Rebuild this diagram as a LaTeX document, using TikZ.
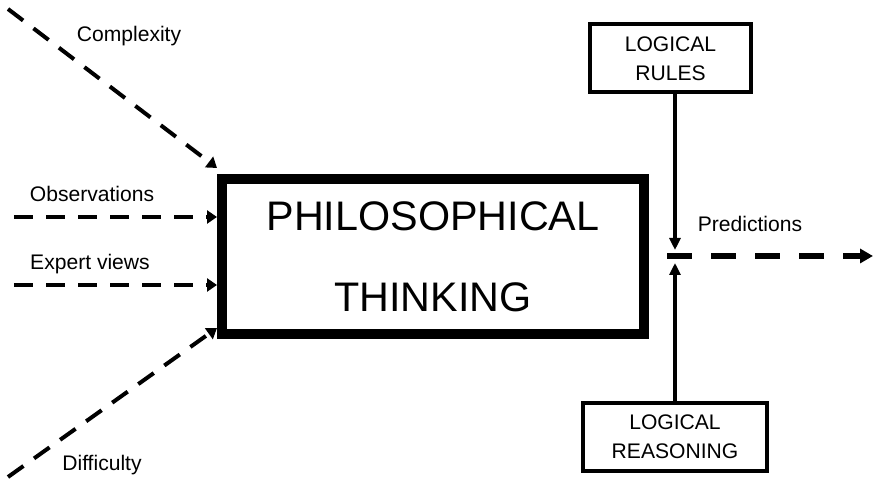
\documentclass[tikz,border=0pt]{standalone}
\usepackage{fontspec}
\setmainfont{Liberation Sans}
\usetikzlibrary{arrows.meta,positioning}

\begin{document}
\begin{tikzpicture}[
  thinkbox/.style={
    draw,
    line width=0.2cm,
    minimum width=8.44cm,
    minimum height=3.1cm,
    align=center,
    font=\fontsize{23.5}{46}\selectfont
  },
  logicbox/.style={
    draw,
    line width=0.08cm,
    minimum height=1.36cm,
    align=center,
    font=\fontsize{12}{16.5}\selectfont
  },
  lbl/.style={
    font=\fontsize{12}{14}\selectfont
  },
  inflow/.style={
    -{Triangle[length=0.2cm,width=0.26cm]},
    line width=0.08cm,
    dash pattern=on 0.38cm off 0.26cm
  },
  outflow/.style={
    -{Triangle[length=0.26cm,width=0.28cm]},
    line width=0.13cm,
    dash pattern=on 0.5cm off 0.38cm
  },
  rulearrow/.style={
    -{Triangle[length=0.24cm,width=0.22cm]},
    line width=0.08cm
  }
]
\useasboundingbox (0,0) rectangle (17.48,9.62);

\node[thinkbox] (think) at (8.66,4.49) {PHILOSOPHICAL\\THINKING};
\node[logicbox,minimum width=3.22cm] (rules) at (13.41,8.45) {LOGICAL\\RULES};
\node[logicbox,minimum width=3.68cm] (reason) at (13.5,0.88) {LOGICAL\\REASONING};

% Inputs
\coordinate (cpx) at (0.16,9.44);
\coordinate (obs) at (0.28,5.28);
\coordinate (exp) at (0.28,3.92);
\coordinate (dif) at (0.16,0.08);

\draw[inflow] (cpx) -- ([yshift=0.12cm]think.north west);
\draw[inflow] (obs) -- (obs -| think.west);
\draw[inflow] (exp) -- (exp -| think.west);
\draw[inflow] (dif) -- ([yshift=0.22cm]think.south west);

\node[lbl] (lcpx) at (2.58,8.9) {Complexity};
\node[lbl] (lobs) at (1.84,5.74) {Observations};
\node[lbl] (lexp) at (1.8,4.34) {Expert views};
\node[lbl] (ldif) at (2.04,0.32) {Difficulty};

% Output
\coordinate (jn) at (13.5,4.5);
\coordinate (pstart) at (13.34,4.5);
\coordinate (pend) at (17.46,4.5);

\draw[outflow] (pstart) -- (pend);
\draw[rulearrow] (rules.south -| jn) -- ([yshift=0.12cm]jn);
\draw[rulearrow] (reason.north -| jn) -- ([yshift=-0.14cm]jn);

\node[lbl] (lpred) at (15.0,5.14) {Predictions};

\end{tikzpicture}
\end{document}
